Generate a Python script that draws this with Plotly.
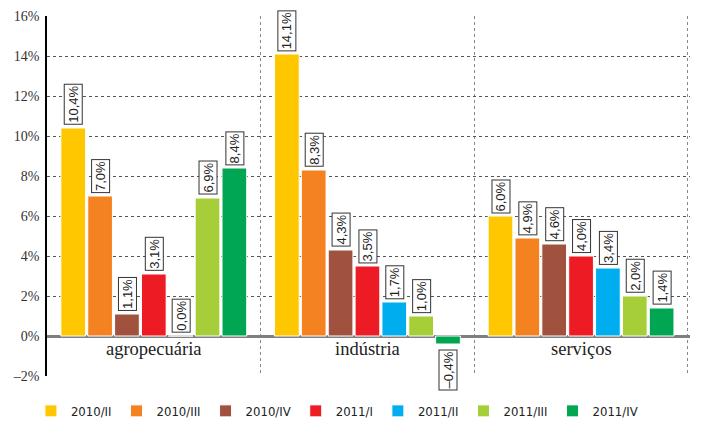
import plotly.graph_objects as go

categories = ["agropecuária", "indústria", "serviços"]
periods = ["2010/II", "2010/III", "2010/IV", "2011/I", "2011/II", "2011/III", "2011/IV"]
values = {
    "2010/II": [10.4, 14.1, 6.0],
    "2010/III": [7.0, 8.3, 4.9],
    "2010/IV": [1.1, 4.3, 4.6],
    "2011/I": [3.1, 3.5, 4.0],
    "2011/II": [0.0, 1.7, 3.4],
    "2011/III": [6.9, 1.0, 2.0],
    "2011/IV": [8.4, -0.4, 1.4],
}
colors = ["#FFC700", "#F58220", "#A0523F", "#ED1C24", "#00AEEF", "#A6CE39", "#00A651"]
yticks = [-2, 0, 2, 4, 6, 8, 10, 12, 14, 16]
yticklabels = ["–2%", "0%", "2%", "4%", "6%", "8%", "10%", "12%", "14%", "16%"]

BARGAP = 0.12
GROUPGAP = 0.08

fig = go.Figure()
xs = list(range(len(categories)))
for p, c in zip(periods, colors):
    fig.add_trace(go.Bar(
        x=xs, y=values[p], name=p,
        marker=dict(color=c, line=dict(color="white", width=1)),
    ))

def fmt(v):
    s = f"{abs(v):.1f}".replace(".", ",") + "%"
    return ("–" + s) if v < 0 else s

n = len(periods)
slot = (1 - BARGAP) / n
annotations = []
for j, p in enumerate(periods):
    off = -(1 - BARGAP) / 2 + slot * (j + 0.5)
    for i, v in enumerate(values[p]):
        annotations.append(dict(
            x=i + off, y=v, xref="x", yref="y",
            text=fmt(v), textangle=-90, showarrow=False,
            yanchor="bottom" if v >= 0 else "top",
            yshift=3 if v >= 0 else -6,
            font=dict(family="Liberation Sans", size=13, color="#222"),
            bordercolor="#333", borderwidth=1, borderpad=1, bgcolor="white",
        ))
for i, cat in enumerate(categories):
    annotations.append(dict(
        x=i, y=-0.65, xref="x", yref="y", text=cat, showarrow=False,
        font=dict(family="Liberation Serif", size=18.5, color="#222"),
    ))

fig.update_layout(
    width=704, height=424,
    margin=dict(l=47, r=14, t=16, b=48, autoexpand=False),
    plot_bgcolor="white", paper_bgcolor="white",
    barmode="group", bargap=BARGAP, bargroupgap=GROUPGAP,
    annotations=annotations,
    legend=dict(orientation="h", x=-0.025, xanchor="left", y=-0.097, yanchor="middle",
                font=dict(family="DejaVu Sans Condensed, Liberation Sans", size=13, color="#222"),
                itemwidth=30, traceorder="normal", itemclick=False,
                tracegroupgap=0),
    xaxis=dict(range=[-0.5, 2.51], tickvals=[0.5, 1.5, 2.5], showticklabels=False,
               showgrid=True, gridcolor="#888", griddash="dot", gridwidth=1,
               zeroline=False, showline=False, ticks=""),
    yaxis=dict(range=[-2, 16], tickvals=yticks, ticktext=yticklabels,
               showgrid=True, gridcolor="#555", griddash="3px,3px", gridwidth=1,
               zeroline=True, zerolinecolor="#7f7f7f", zerolinewidth=3,
               showline=True, linecolor="black", linewidth=1.5,
               tickfont=dict(family="Liberation Serif", size=14, color="#333"),
               ticks="", ticklabelstandoff=3),
)
fig.write_html("out.html", config={"displayModeBar": False},
               post_script="document.body.style.margin='0';")
